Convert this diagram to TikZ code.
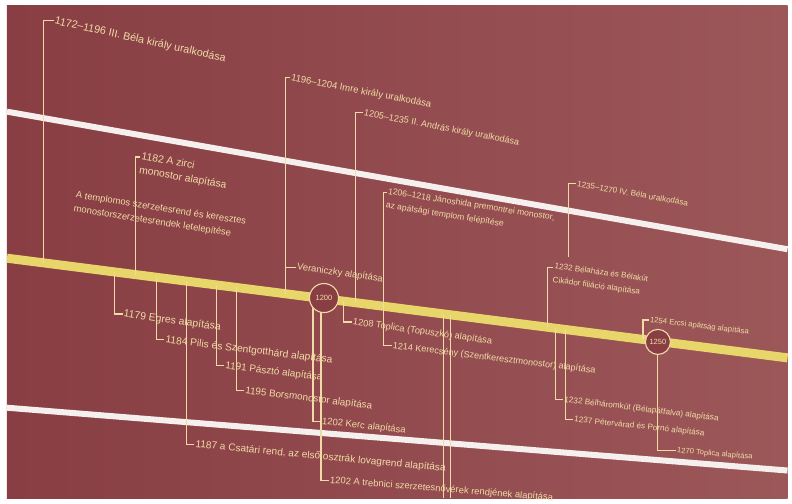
\documentclass[tikz,border=0pt]{standalone}
\usepackage{fontspec}
\setmainfont{Liberation Sans}
\usetikzlibrary{calc}

\definecolor{falsot}{HTML}{883E43}
\definecolor{falvil}{HTML}{9C5759}
\definecolor{krem}{HTML}{F0DBA6}
\definecolor{sarga}{HTML}{E8D66A}
\definecolor{csik}{HTML}{F5F0EE}

\begin{document}
\begin{tikzpicture}[x=0.035cm,y=-0.035cm,
    esemeny/.style={text=krem,font=\fontsize{#1}{14}\selectfont,inner sep=1pt,align=left,anchor=west},
    esemeny/.default=9,
    vonal/.style={krem,line width=1.1pt},
    evszam/.style={circle,draw=krem,fill=falsot,line width=1.1pt,inner sep=0pt,text=krem,font=\fontsize{7.5}{8}\selectfont}]

    % Fal
    \fill[white] (0,0) rectangle (792,503);
    \shade[left color=falsot,right color=falvil] (7,6) rectangle (790,500);

    % Csikok
    \coordinate (fa) at (7,112);  \coordinate (fb) at (790,250);
    \coordinate (ya) at (7,259);  \coordinate (yb) at (790,359);
    \coordinate (aa) at (7,409);  \coordinate (ab) at (790,472);
    \draw[csik,line width=6pt] (fa) -- (fb);
    \draw[sarga,line width=9pt] (ya) -- (yb);
    \draw[csik,line width=6pt] (aa) -- (ab);

    % Esemenyek a savon felul
    \node[esemeny=10.7,rotate=-12.5] (e1172) at (54,21) {1172–1196 III. Béla király uralkodása};
    \coordinate (s1172) at (44,{259+37*0.1277});
    \draw[vonal] (e1172.west) -| (s1172);

    \node[esemeny=9.5,rotate=-11] (e1196) at (291,78) {1196–1204 Imre király uralkodása};
    \coordinate (s1196) at (286,{259+279*0.1277});
    \draw[vonal] (e1196.west) -| (s1196);

    \node[esemeny=9.1,rotate=-11] (e1205) at (364,113) {1205–1235 II. András király uralkodása};
    \coordinate (s1205) at (357,{259+350*0.1277});
    \draw[vonal] (e1205.west) -| (s1205);

    \node[esemeny=10.4,rotate=-10,anchor=north west] (e1182) at (142,151) {1182 A zirci\\monostor alapítása};
    \coordinate (s1182) at (136,{259+129*0.1277});
    \draw[vonal] ($(e1182.north west)!.25!(e1182.south west)$) -| (s1182);

    \node[esemeny=9.4,rotate=-9,anchor=north west] (etemplom) at (76,190)
        {A templomos szerzetesrend és keresztes\\monostorszerzetesrendek letelepítése};

    \node[esemeny=8.6,rotate=-9,anchor=north west] (e1206) at (389,187)
        {1206–1218 Jánoshida premontrei monostor,\\az apátsági templom felépítése};
    \coordinate (s1206) at (385,{259+378*0.1277});
    \draw[vonal] ($(e1206.north west)!.25!(e1206.south west)$) -| (s1206);

    \node[esemeny=9.4,rotate=-8] (everan) at (297,268) {Veraniczky alapítása};
    \coordinate (h1196) at (286,268);
    \draw[vonal] (h1196) -- (everan.west);

    \node[esemeny=8.1,rotate=-10] (e1235) at (578,184) {1235–1270 IV. Béla uralkodása};
    \coordinate (s1235) at (570,258);
    \draw[vonal] (e1235.west) -| (s1235);

    \node[esemeny=8.1,rotate=-8,anchor=north west] (e1232) at (556,262)
        {1232 Bélaháza és Bélakút\\Cikádor filiáció alapítása};
    \coordinate (s1232) at (549,{259+542*0.1277});
    \draw[vonal] ($(e1232.north west)!.25!(e1232.south west)$) -| (s1232);

    \node[esemeny=7.7,rotate=-7] (e1254) at (651,321) {1254 Ercsi apátság alapítása};
    \coordinate (s1254) at (645,{259+638*0.1277});
    \draw[vonal] (e1254.west) -| (s1254);

    % Esemenyek a savon alul
    \foreach \x/\ty/\rot/\nev/\szoveg in {
        115/315/-8/1179/{1179 Egres alapítása},
        157/341/-7/1184/{1184 Pilis és Szentgotthárd alapítása},
        217/367/-7/1191/{1191 Pásztó alapítása},
        237/392/-7/1195/{1195 Borsmonostor alapítása},
        187/446/-5.5/1187/{1187 a Csatári rend, az első osztrák lovagrend alapítása},
        314/423/-6/1202k/{1202 Kerc alapítása},
        322/482/-4.5/1202t/{1202 A trebnici szerzetesnővérek rendjének alapítása},
        345/323/-8/1208/{1208 Toplica (Topuszkó) alapítása},
        385/347/-7/1214/{1214 Kerecsény (Szentkeresztmonostor) alapítása},
        557/401/-7/1232b/{1232 Bélháromkút (Bélapátfalva) alapítása},
        567/421/-6/1237/{1237 Pétervárad és Pornó alapítása}} {
        \pgfmathsetmacro\meret{11-0.005*\x}
        \coordinate (s\nev) at (\x,{259+(\x-7)*0.1277});
        \node[esemeny=\meret,rotate=\rot] (e\nev) at (\x+8,\ty) {\szoveg};
        \draw[vonal] (s\nev) |- (e\nev.west);
    }

    % Tovabbfuto vonalak
    \foreach \x in {445,452} {
        \coordinate (s\x) at (\x,{259+(\x-7)*0.1277});
        \coordinate (v\x) at (\x,500);
        \draw[vonal] (s\x) -- (v\x);
    }

    % Evszamkorok
    \node[evszam,minimum size=29pt] (k1200) at (325,299) {1200};
    \node[evszam,minimum size=25pt] (k1250) at (660,343) {1250};

    \node[esemeny=7.6,rotate=-5] (e1270) at (678,452) {1270 Toplica alapítása};
    \draw[vonal] (k1250.south) |- (e1270.west);

\end{tikzpicture}
\end{document}
